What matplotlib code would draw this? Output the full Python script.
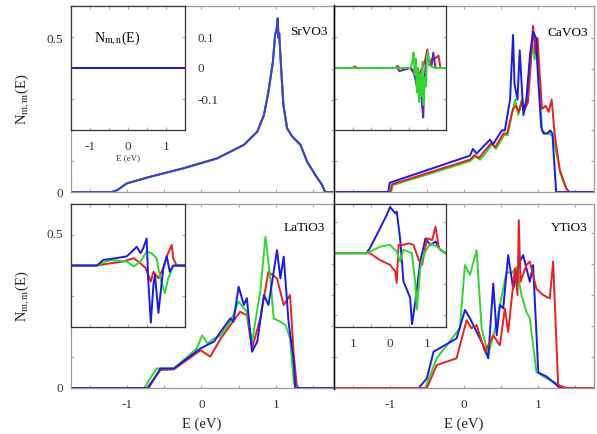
import matplotlib
matplotlib.use("Agg")
import matplotlib.pyplot as plt
from matplotlib.lines import Line2D

plt.rcParams['font.family'] = ['Liberation Serif', 'DejaVu Serif']
plt.rcParams['mathtext.fontset'] = 'stix'

BLUE = '#1a1ae6'
RED = '#e82020'
GREEN = '#2ed82e'
PURPLE = '#6020c0'

# ---------------- data ----------------
# SrVO3 (all three orbitals identical)
srvo3_E = [-1.77, -1.2, -1.13, -1.0, -0.68, -0.24, 0.21, 0.57, 0.75, 0.84, 0.90, 0.96, 0.99,
           1.01, 1.025, 1.035, 1.045, 1.06, 1.10, 1.15, 1.22, 1.33, 1.42, 1.53, 1.62, 1.66, 1.77]
srvo3_N = [0, 0, 0.006, 0.028, 0.05, 0.077, 0.109, 0.153, 0.196, 0.25, 0.326, 0.423, 0.51,
           0.53, 0.564, 0.50, 0.515, 0.445, 0.283, 0.207, 0.18, 0.153, 0.098, 0.055, 0.023, 0.0, 0]
srvo3_inset_E = [-1.5, 1.5]
srvo3_inset_N = [0, 0]

# CaVO3
cavo3_blue_E = [-1.77, -1.02, -1.0, 0.08, 0.12, 0.17, 0.35, 0.39, 0.51, 0.55, 0.62, 0.66, 0.68,
                0.72, 0.75, 0.80, 0.84, 0.89, 0.93, 0.97, 0.99, 1.04, 1.07, 1.12, 1.16, 1.19, 1.24, 1.77]
cavo3_blue_N = [0, 0, 0.03, 0.118, 0.14, 0.125, 0.17, 0.155, 0.2, 0.2, 0.30, 0.51, 0.35,
                0.30, 0.46, 0.25, 0.30, 0.45, 0.52, 0.50, 0.40, 0.21, 0.19, 0.19, 0.20, 0.19, 0.0, 0]
cavo3_red_E = [-1.77, -0.99, -0.97, 0.08, 0.14, 0.2, 0.37, 0.42, 0.53, 0.58, 0.66, 0.70, 0.74,
               0.78, 0.82, 0.86, 0.90, 0.93, 0.96, 0.99, 1.02, 1.05, 1.1, 1.14, 1.18, 1.22, 1.29,
               1.38, 1.42, 1.77]
cavo3_red_N = [0, 0, 0.025, 0.105, 0.12, 0.11, 0.16, 0.145, 0.19, 0.19, 0.27, 0.28, 0.26,
               0.30, 0.27, 0.29, 0.42, 0.54, 0.45, 0.50, 0.38, 0.27, 0.28, 0.26, 0.30, 0.19, 0.07,
               0.01, 0, 0]
cavo3_green_E = [-1.77, -0.98, -0.96, 0.08, 0.15, 0.22, 0.38, 0.43, 0.54, 0.59, 0.65, 0.69, 0.73,
                 0.77, 0.81, 0.85, 0.88, 0.92, 0.95, 0.98, 1.01, 1.05, 1.1, 1.15, 1.2, 1.3, 1.36, 1.41, 1.77]
cavo3_green_N = [0, 0, 0.022, 0.10, 0.115, 0.105, 0.155, 0.14, 0.185, 0.185, 0.26, 0.3, 0.25,
                 0.29, 0.26, 0.31, 0.4, 0.48, 0.43, 0.47, 0.36, 0.2, 0.19, 0.19, 0.18, 0.06, 0.02, 0, 0]

cavo3_inset_green_E = [-1.5, 0.55, 0.6, 0.63, 0.66, 0.69, 0.72, 0.75, 0.78, 0.81, 0.84, 0.87, 0.9,
                       0.93, 0.96, 0.99, 1.02, 1.05, 1.1, 1.2, 1.5]
cavo3_inset_green_N = [0, 0, 0.02, 0.05, -0.02, 0.03, -0.08, 0.0, -0.11, -0.02, -0.09, 0.02, -0.12,
                       -0.03, -0.06, 0.04, 0.05, 0.01, 0.005, 0, 0]
cavo3_inset_blue_E = [-1.5, 0.2, 0.25, 0.55, 0.65, 0.72, 0.8, 0.86, 0.89, 0.92, 0.97, 1.0, 1.05,
                      1.12, 1.16, 1.22, 1.5]
cavo3_inset_blue_N = [0, 0, -0.01, 0, -0.02, -0.06, -0.03, -0.12, -0.16, -0.05, 0.03, 0.05, 0.01,
                      0.01, 0.05, 0.0, 0]
cavo3_inset_red_E = [-1.5, -1.0, -0.94, -0.88, 0.15, 0.2, 0.25, 0.55, 0.65, 0.75, 0.82, 0.88, 0.95,
                     1.0, 1.05, 1.12, 1.2, 1.3, 1.35, 1.43, 1.5]
cavo3_inset_red_N = [0, 0, 0.005, 0, 0, 0.007, 0, 0, -0.01, -0.03, -0.01, 0.005, 0.03, 0.06,
                     0.01, 0.03, 0.03, 0.04, 0.0, 0.0, 0]

# LaTiO3
latio3_blue_E = [-1.77, -0.71, -0.55, -0.37, -0.01, 0.17, 0.26, 0.39, 0.43, 0.5, 0.57, 0.61, 0.68,
                 0.75, 0.84, 0.9, 0.95, 1.015, 1.06, 1.105, 1.17, 1.24, 1.26, 1.77]
latio3_blue_N = [0, 0, 0.063, 0.063, 0.128, 0.15, 0.182, 0.225, 0.214, 0.327, 0.268, 0.29, 0.117,
                 0.15, 0.30, 0.268, 0.343, 0.445, 0.354, 0.424, 0.214, 0.085, 0, 0]
latio3_red_E = [-1.77, -0.73, -0.55, -0.37, -0.01, 0.12, 0.26, 0.39, 0.52, 0.61, 0.68, 0.79, 0.9,
                1.015, 1.105, 1.19, 1.24, 1.28, 1.3, 1.77]
latio3_red_N = [0, 0, 0.058, 0.06, 0.122, 0.101, 0.16, 0.203, 0.246, 0.235, 0.128, 0.225, 0.375,
                0.354, 0.268, 0.30, 0.106, 0.01, 0, 0]
latio3_green_E = [-1.77, -0.77, -0.6, -0.37, -0.06, 0.01, 0.08, 0.17, 0.26, 0.39, 0.5, 0.61, 0.68,
                  0.79, 0.86, 0.93, 0.97, 1.06, 1.13, 1.19, 1.24, 1.26, 1.77]
latio3_green_N = [0, 0, 0.063, 0.063, 0.128, 0.17, 0.144, 0.16, 0.17, 0.214, 0.279, 0.246, 0.15,
                  0.311, 0.488, 0.343, 0.225, 0.214, 0.203, 0.16, 0.02, 0, 0]

latio3_inset_blue_E = [-1.5, -0.82, -0.65, -0.3, -0.03, 0.1, 0.23, 0.33, 0.4, 0.49, 0.53, 0.6, 0.67,
                       0.71, 0.8, 0.93, 1.02, 1.1, 1.19, 1.5]
latio3_inset_blue_N = [0, 0, 0.018, 0.024, 0.03, 0.045, 0.061, 0.04, 0.056, 0.088, -0.04, -0.186,
                       -0.062, -0.03, -0.154, -0.008, 0.03, -0.02, 0.0, 0]
latio3_inset_red_E = [-1.5, -0.82, -0.47, -0.12, 0.15, 0.33, 0.46, 0.6, 0.67, 0.8, 0.93, 1.02, 1.15,
                      1.19, 1.28, 1.5]
latio3_inset_red_N = [0, 0, 0.007, 0.013, 0.024, 0.007, -0.008, -0.052, -0.02, -0.041, -0.008,
                      0.03, 0.067, 0.024, 0.0, 0]
latio3_inset_green_E = [-1.5, -0.82, -0.47, -0.03, 0.15, 0.33, 0.49, 0.62, 0.75, 0.85, 0.97, 1.06,
                        1.19, 1.28, 1.5]
latio3_inset_green_N = [0, 0, 0.018, 0.013, -0.003, 0.013, 0.045, 0.04, 0.024, -0.041, -0.09,
                        -0.041, -0.003, 0.0, 0]

# YTiO3
ytio3_blue_E = [-1.77, -0.61, -0.5, -0.41, -0.1, 0.013, 0.08, 0.17, 0.26, 0.326, 0.394, 0.44,
                0.483, 0.528, 0.595, 0.662, 0.75, 0.796, 0.886, 0.93, 0.97, 1.0, 1.111, 1.245, 1.29, 1.77]
ytio3_blue_N = [0, 0, 0.031, 0.117, 0.16, 0.252, 0.225, 0.181, 0.138, 0.096, 0.337, 0.17,
                0.268, 0.257, 0.429, 0.32, 0.408, 0.429, 0.343, 0.397, 0.2, 0.05, 0.037, 0.01, 0, 0]
ytio3_red_E = [-1.77, -0.5, -0.367, -0.1, 0.035, 0.1, 0.17, 0.282, 0.394, 0.483, 0.55, 0.595,
               0.685, 0.72, 0.738, 0.76, 0.84, 0.886, 0.975, 1.065, 1.154, 1.2, 1.267, 1.378, 1.77]
ytio3_red_N = [0, 0, 0.074, 0.096, 0.219, 0.193, 0.203, 0.117, 0.17, 0.138, 0.257, 0.181,
               0.386, 0.3, 0.542, 0.343, 0.397, 0.408, 0.32, 0.30, 0.289, 0.408, 0.01, 0, 0]
ytio3_green_E = [-1.77, -0.523, -0.367, -0.056, 0.013, 0.08, 0.17, 0.237, 0.326, 0.44, 0.573,
                 0.64, 0.707, 0.774, 0.84, 0.886, 0.975, 1.11, 1.245, 1.29, 1.77]
ytio3_green_N = [0, 0, 0.096, 0.193, 0.397, 0.365, 0.445, 0.193, 0.106, 0.214, 0.375,
                 0.37, 0.39, 0.30, 0.246, 0.225, 0.052, 0.031, 0.015, 0, 0]

ytio3_inset_blue_E = [-1.5, -0.63, -0.54, -0.27, -0.09, 0.0, 0.14, 0.18, 0.27, 0.36, 0.45, 0.54,
                      0.59, 0.68, 0.81, 0.95, 1.08, 1.22, 1.35, 1.49]
ytio3_inset_blue_N = [0, 0, 0.016, 0.08, 0.124, 0.15, 0.13, 0.135, 0.048, -0.092, -0.118, -0.145,
                      -0.231, -0.156, -0.027, 0.048, 0.027, 0.038, 0.011, 0]
ytio3_inset_red_E = [-1.5, -0.63, -0.54, -0.27, 0.0, 0.14, 0.18, 0.23, 0.36, 0.5, 0.63, 0.77, 0.86,
                     0.99, 1.13, 1.22, 1.31, 1.49]
ytio3_inset_red_N = [0, 0, 0.0, -0.022, -0.038, -0.059, -0.097, 0.027, 0.027, 0.032, 0.027,
                     -0.022, -0.038, 0.048, 0.043, 0.086, 0.016, 0]
ytio3_inset_green_E = [-1.5, -0.63, -0.54, -0.27, 0.0, 0.18, 0.27, 0.36, 0.59, 0.68, 0.72, 0.81,
                       0.9, 1.08, 1.26, 1.49]
ytio3_inset_green_N = [0, 0, 0.005, 0.021, 0.027, 0.005, -0.027, 0.011, 0.0, -0.102, -0.183,
                       -0.05, -0.005, 0.032, 0.021, 0]

x_ticks = [-1.5, -1, -0.5, 0, 0.5, 1, 1.5]
x_tick_labels = ['', '-1', '', '0', '', '1', '']
y_ticks = [0, 0.1, 0.2, 0.3, 0.4, 0.5]
y_tick_labels = ['0', '', '', '', '', '0.5']
inset_y_ticks = [-0.2, -0.1, 0, 0.1, 0.2]
inset_y_tick_labels = ['', '-0.1', '0', '0.1', '']
inset_x_tick_labels_a = ['', '-1', '', '0', '', '1', '']
inset_x_tick_labels_b = ['', '1', '', '0', '', '1', '']
panel_names = ['SrVO3', 'CaVO3', 'LaTiO3', 'YTiO3']

# ---------------- figure ----------------
W, H = 597, 434
fig = plt.figure(figsize=(W / 100, H / 100), dpi=100)


def rect(x0, y0, x1, y1):
    return [x0 / W, 1 - y1 / H, (x1 - x0) / W, (y1 - y0) / H]


def style_main(ax, xlim, ylim, left_labels, bottom_labels):
    ax.set_xlim(*xlim)
    ax.set_ylim(*ylim)
    ax.set_xticks(x_ticks)
    ax.set_yticks(y_ticks)
    ax.set_xticklabels(x_tick_labels if bottom_labels else [''] * len(x_ticks))
    ax.set_yticklabels(y_tick_labels if left_labels else [''] * len(y_ticks))
    ax.tick_params(direction='in', length=2, width=0.8, color='#aaaaaa',
                   top=True, right=True, labelsize=9.5, labelcolor='#333333')
    ax.tick_params(axis='x', pad=8)
    ax.tick_params(axis='y', pad=6)
    for s in ax.spines.values():
        s.set_color('#999999')
        s.set_linewidth(0.9)


def style_inset(ax):
    ax.set_xlim(-1.5, 1.5)
    ax.set_xticks(x_ticks)
    ax.set_yticks(inset_y_ticks)
    ax.set_xticklabels([''] * len(x_ticks))
    ax.set_yticklabels([''] * len(inset_y_ticks))
    ax.tick_params(direction='in', length=2, width=0.8, color='#aaaaaa',
                   top=True, right=True, labelsize=9.5, labelcolor='#333333')
    for s in ax.spines.values():
        s.set_color('#333333')
        s.set_linewidth(0.9)
    ax.set_facecolor('white')


LW = 1.4

# Top-left: SrVO3
ax1 = fig.add_axes(rect(71, 6, 334, 192))
for c in (RED, GREEN, '#3a3ae0'):
    ax1.plot(srvo3_E, srvo3_N, color=c, lw=LW)
style_main(ax1, (-1.75, 1.78), (0, 0.604), True, False)
ax1.text(0.975, 0.86, panel_names[0], transform=ax1.transAxes, ha='right', va='center', fontsize=9.5)

# Top-right: CaVO3
ax2 = fig.add_axes(rect(334, 6, 594, 192))
ax2.plot(cavo3_green_E, cavo3_green_N, color=GREEN, lw=LW)
ax2.plot(cavo3_red_E, cavo3_red_N, color=RED, lw=LW)
ax2.plot(cavo3_blue_E, cavo3_blue_N, color=BLUE, lw=LW)
style_main(ax2, (-1.75, 1.75), (0, 0.604), False, False)
ax2.text(0.977, 0.855, panel_names[1], transform=ax2.transAxes, ha='right', va='center', fontsize=9.5)

# Bottom-left: LaTiO3
ax3 = fig.add_axes(rect(71, 204, 334, 388))
ax3.plot(latio3_red_E, latio3_red_N, color=RED, lw=LW)
ax3.plot(latio3_green_E, latio3_green_N, color=GREEN, lw=LW)
ax3.plot(latio3_blue_E, latio3_blue_N, color=BLUE, lw=LW)
style_main(ax3, (-1.75, 1.78), (0, 0.594), True, True)
ax3.text(0.966, 0.87, panel_names[2], transform=ax3.transAxes, ha='right', va='center', fontsize=9.5)

# Bottom-right: YTiO3
ax4 = fig.add_axes(rect(334, 204, 594, 388))
ax4.plot(ytio3_green_E, ytio3_green_N, color=GREEN, lw=LW)
ax4.plot(ytio3_blue_E, ytio3_blue_N, color=BLUE, lw=LW)
ax4.plot(ytio3_red_E, ytio3_red_N, color=RED, lw=LW)
style_main(ax4, (-1.75, 1.75), (0, 0.594), False, True)
ax4.text(0.977, 0.87, panel_names[3], transform=ax4.transAxes, ha='right', va='center', fontsize=9.5)

# Insets
in1 = fig.add_axes(rect(71, 6, 185, 130))
for c in (RED, GREEN, BLUE):
    in1.plot(srvo3_inset_E, srvo3_inset_N, color=c, lw=LW)
style_inset(in1)
in1.set_ylim(-0.2, 0.2)
in1.set_xticklabels(inset_x_tick_labels_a)
in1.set_yticklabels(inset_y_tick_labels)
in1.tick_params(labelleft=False, labelright=True, axis='y', pad=9)
in1.tick_params(axis='x', pad=8)
in1.set_xlabel('E (eV)', fontsize=6.5, labelpad=1, color='#333333')
in1.text(0.40, 0.74, r'N$_{\mathrm{m,n}}$(E)', transform=in1.transAxes, ha='center', va='center',
         fontsize=10)

in2 = fig.add_axes(rect(334, 6, 446, 130))
in2.plot(cavo3_inset_red_E, cavo3_inset_red_N, color=RED, lw=LW)
in2.plot(cavo3_inset_blue_E, cavo3_inset_blue_N, color=PURPLE, lw=LW)
in2.plot(cavo3_inset_green_E, cavo3_inset_green_N, color=GREEN, lw=LW)
style_inset(in2)
in2.set_ylim(-0.2, 0.2)

in3 = fig.add_axes(rect(71, 204, 185, 327))
in3.plot(latio3_inset_red_E, latio3_inset_red_N, color=RED, lw=LW)
in3.plot(latio3_inset_green_E, latio3_inset_green_N, color=GREEN, lw=LW)
in3.plot(latio3_inset_blue_E, latio3_inset_blue_N, color=BLUE, lw=LW)
style_inset(in3)
in3.set_ylim(-0.2, 0.2)

in4 = fig.add_axes(rect(334, 204, 446, 327))
in4.plot(ytio3_inset_blue_E, ytio3_inset_blue_N, color=BLUE, lw=LW)
in4.plot(ytio3_inset_red_E, ytio3_inset_red_N, color=RED, lw=LW)
in4.plot(ytio3_inset_green_E, ytio3_inset_green_N, color=GREEN, lw=LW)
style_inset(in4)
in4.set_ylim(-0.24, 0.16)
in4.set_xticklabels(inset_x_tick_labels_b)
in4.tick_params(axis='x', pad=8)

# divider line between left and right panels
fig.add_artist(Line2D([334 / W, 334 / W], [1 - 389 / H, 1 - 5 / H], color='black', lw=1.0))

# axis labels
ylab = r'N$_{\mathrm{m,m}}$(E)'
fig.text(22 / W, 1 - 99 / H, ylab, rotation=90, ha='center', va='center', fontsize=10.5, color='#222222')
fig.text(22 / W, 1 - 296 / H, ylab, rotation=90, ha='center', va='center', fontsize=10.5, color='#222222')
fig.text(202 / W, 1 - 424 / H, 'E (eV)', ha='center', va='center', fontsize=10.5, color='#222222')
fig.text(464 / W, 1 - 424 / H, 'E (eV)', ha='center', va='center', fontsize=10.5, color='#222222')

fig.savefig('out.png', dpi=100)
